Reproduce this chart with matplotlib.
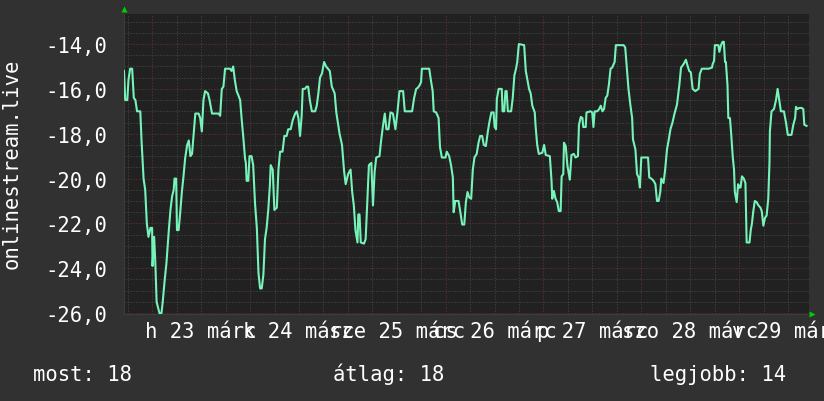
import matplotlib
matplotlib.use('Agg')
import matplotlib.pyplot as plt
import matplotlib.transforms as mtransforms
import numpy as np

# hours since the first sample (22 March, ~17:04) and the plotted rank value
hours = [
    0.0, 0.3, 0.8, 1.1, 1.5, 2.0, 2.4, 2.8, 3.2, 4.0,
    4.3, 4.8, 5.2, 5.6, 6.0, 6.5, 6.9, 7.0, 7.4, 7.7,
    8.0, 8.7, 9.2, 9.5, 10.0, 10.4, 11.0, 11.4, 11.8, 12.2,
    12.4, 12.8, 13.0, 13.4, 13.8, 14.2, 14.6, 15.0, 15.5, 15.9,
    16.3, 16.7, 17.1, 17.5, 18.3, 18.7, 19.1, 19.5, 19.9, 20.6,
    21.0, 21.6, 23.2, 23.6, 24.0,
    24.4, 24.8, 26.0, 26.4, 26.8, 27.2, 27.65, 28.1, 28.5, 28.9,
    29.3, 29.7, 29.9, 30.1, 30.5, 30.8, 31.3, 31.7, 32.15, 32.6,
    33.0, 33.4, 33.8, 34.2, 34.6, 35.0, 35.4, 35.8, 36.0, 36.5,
    36.9, 37.5, 37.9, 38.3, 38.9, 39.35, 39.9, 40.3, 40.9, 41.4,
    42.0, 42.4, 42.8, 43.2, 43.6, 43.85, 44.4, 44.8, 45.2, 45.6,
    46.1, 46.9, 47.3, 47.7, 48.1,
    48.6, 49.1, 49.6, 50.5, 51.0, 51.7, 52.1, 52.9, 53.5, 54.0,
    54.4, 55.0, 55.6, 56.0, 56.4, 56.8, 57.3, 57.5, 57.8, 58.1,
    58.9, 59.3, 59.7, 60.1, 60.7, 61.1, 61.5, 61.9, 62.7, 63.1,
    63.55, 64.0, 64.4, 64.9, 65.4, 66.0, 66.6, 67.1, 67.6, 68.5,
    68.9, 70.7, 71.2, 71.7, 72.1,
    72.5, 72.9, 73.1, 74.5, 74.9, 75.3, 75.75, 76.0, 76.6, 77.2,
    77.55, 78.0, 78.9, 79.2, 79.8, 80.25, 80.7, 80.9, 81.3, 82.1,
    82.5, 83.0, 83.5, 83.9, 84.3, 84.75, 85.2, 85.6, 86.0, 86.55,
    87.0, 87.4, 87.9, 88.3, 88.8, 89.25, 89.65, 90.15, 90.7, 90.95,
    91.3, 91.5, 91.95, 92.7, 92.9, 93.3, 93.6, 93.9, 94.2, 95.0,
    95.4, 95.8, 96.2, 96.5, 96.9,
    98.2, 98.6, 99.0, 99.4, 99.8, 100.2, 100.8, 101.0, 101.4, 101.8,
    102.65, 103.1, 103.5, 104.5, 104.9, 105.1, 105.5, 105.9, 106.3, 106.7,
    107.15, 107.4, 107.8, 107.97, 108.4, 108.8, 109.4, 109.8, 110.4, 110.8,
    111.4, 111.65, 112.1, 112.5, 112.7, 113.3, 113.5, 114.5, 114.9, 115.2,
    115.5, 116.15, 116.6, 117.0, 117.4, 117.8, 118.2, 118.6, 119.0, 119.4,
    119.8,
    120.4, 120.7, 122.6, 123.0, 123.4, 123.8, 124.25, 124.7, 124.9, 125.5,
    125.9, 126.3, 126.6, 126.95, 128.6, 128.9, 129.4, 129.97, 130.4, 130.8,
    131.2, 131.6, 131.85, 132.4, 132.8, 133.25, 133.65, 134.1, 134.6, 135.1,
    135.7, 136.3, 136.7, 137.3, 137.9, 138.3, 138.7, 139.1, 139.55, 140.2,
    141.0, 141.3, 141.8, 143.5, 144.3,
    144.45, 144.8, 145.0, 145.85, 146.1, 146.5, 146.9, 147.2, 147.5, 147.7,
    148.1, 148.3, 148.7, 149.0, 149.4, 149.7, 149.9, 150.35, 150.7, 151.0,
    151.3, 151.65, 152.1, 152.5, 152.8, 153.5, 153.8, 154.1, 154.4, 154.8,
    155.25, 155.7, 156.2, 156.5, 156.9, 157.3, 157.7, 158.1, 158.4, 158.5,
    158.9, 159.5, 160.0, 160.4, 160.8, 161.2, 161.95, 162.45, 162.9, 163.8,
    164.25, 164.7, 164.9, 165.3, 165.7, 166.3, 166.7, 166.95, 167.5,
]
rank = [
    -15.2, -16.5, -16.5, -15.6, -15.1, -15.1, -16.4, -16.5, -17.0, -17.0,
    -18.3, -20.0, -20.5, -22.0, -22.6, -22.2, -22.2, -23.9, -22.6, -23.8,
    -25.5, -26.0, -26.0, -25.5, -24.5, -23.8, -22.3, -21.4, -20.8, -20.5,
    -20.0, -20.0, -22.3, -22.3, -21.5, -20.6, -19.9, -19.1, -18.5, -18.3,
    -19.0, -18.9, -18.0, -17.1, -17.1, -17.3, -17.9, -16.5, -16.1, -16.2,
    -16.5, -17.1, -17.1, -17.2, -16.0,
    -15.9, -15.1, -15.1, -15.2, -15.0, -15.6, -16.1, -16.3, -16.5, -17.4,
    -18.2, -19.1, -19.3, -20.1, -20.1, -19.0, -19.0, -19.4, -21.1, -22.2,
    -24.2, -24.9, -24.9, -24.3, -22.7, -22.2, -21.4, -20.3, -19.4, -19.6,
    -21.4, -21.3, -19.6, -18.8, -18.8, -18.1, -18.1, -17.8, -17.8, -17.4,
    -17.1, -17.0, -17.3, -18.1, -17.2, -16.0, -16.0, -15.9, -15.9, -16.5,
    -17.0, -17.0, -16.75, -16.2, -15.5,
    -15.3, -14.8, -15.0, -15.2, -15.9, -16.2, -17.05, -18.0, -18.5, -19.65,
    -20.25, -19.8, -19.6, -20.6, -21.2, -22.3, -22.85, -21.6, -21.6, -22.85,
    -22.9, -22.7, -21.05, -19.4, -19.3, -21.2, -19.7, -19.06, -19.0, -18.3,
    -17.65, -17.1, -17.8, -17.8, -17.05, -17.1, -17.8, -17.05, -16.1, -16.1,
    -17.0, -17.0, -16.4, -16.0, -15.95,
    -15.85, -15.7, -15.1, -15.1, -15.1, -15.6, -16.1, -17.0, -17.05, -17.3,
    -18.6, -19.06, -19.06, -18.8, -19.0, -19.4, -19.95, -21.5, -21.0, -21.0,
    -21.45, -22.05, -22.05, -21.05, -20.6, -20.85, -20.9, -19.6, -19.06, -18.9,
    -18.4, -18.1, -18.1, -18.5, -18.55, -17.95, -17.5, -17.05, -17.05, -17.7,
    -17.8, -16.45, -16.0, -16.0, -17.0, -17.0, -16.1, -16.1, -17.0, -17.0,
    -16.4, -15.4, -15.1, -14.8, -14.0,
    -14.05, -15.2, -15.6, -16.0, -16.2, -16.75, -17.05, -17.65, -18.5, -18.9,
    -18.85, -18.5, -18.95, -19.0, -20.05, -20.9, -20.55, -20.9, -21.05, -21.45,
    -21.45, -19.9, -19.8, -18.4, -18.55, -19.4, -20.05, -18.95, -18.9, -19.06,
    -19.0, -17.6, -17.25, -17.3, -17.7, -17.7, -17.05, -17.0, -17.05, -17.7,
    -17.0, -17.0, -16.9, -16.75, -17.0, -16.9, -16.4, -16.3, -15.8, -15.1,
    -15.05,
    -14.8, -14.05, -14.05, -14.15, -15.05, -16.0, -16.7, -17.3, -18.25, -18.7,
    -19.8, -19.95, -20.4, -19.06, -19.06, -19.95, -20.0, -20.1, -20.25, -21.0,
    -21.0, -20.6, -20.0, -20.2, -19.6, -18.7, -18.3, -17.8, -17.5, -17.1,
    -16.7, -15.8, -15.05, -14.9, -14.7, -14.97, -15.2, -15.26, -16.0, -16.1,
    -16.0, -15.34, -15.1, -15.1, -15.05,
    -14.9, -14.75, -14.05, -14.05, -14.35, -14.05, -13.9, -13.9, -14.8, -14.8,
    -15.85, -17.3, -17.3, -18.0, -19.06, -19.6, -20.6, -21.05, -20.25, -20.4,
    -20.4, -19.9, -20.0, -20.2, -22.85, -22.85, -22.3, -22.0, -21.5, -21.0,
    -21.05, -21.2, -21.3, -21.45, -22.1, -21.75, -21.65, -20.9, -19.3, -17.9,
    -17.0, -16.9, -16.5, -16.0, -16.5, -17.0, -17.0, -17.5, -18.05, -18.05,
    -17.6, -17.3, -16.8, -16.9, -16.85, -16.85, -16.9, -17.6, -17.65,
]

day_labels = ['h 23 márc', 'k 24 márc', 'sze 25 márc', 'cs 26 márc',
              'p 27 márc', 'szo 28 márc', 'v 29 márc']
first_midnight = 6.94   # hours from first sample to 23 March 00:00
span = 168.1
y_ticks = [-26, -24, -22, -20, -18, -16, -14]
summary = ['most: 18', 'átlag: 18', 'legjobb: 14']
site = 'onlinestream.live'

bg = '#313131'
plot_bg = '#212121'
line_c = '#76f3b8'
fs = 14.8

plt.rcParams['font.family'] = ['DejaVu Sans Mono']

fig = plt.figure(figsize=(8.24, 4.02), dpi=100, facecolor=bg)
ax = fig.add_axes([124 / 824, 1 - 315 / 402, 685 / 824, 300 / 402])
ax.set_facecolor(plot_bg)
ax.set_xlim(0, span)
ax.set_ylim(-26.04, -12.66)

# dotted grid, red on the major lines
dots = (0, (1, 2))
for x in np.arange(first_midnight - 6, span, 6):
    major = abs((x - first_midnight) % 24) < 0.01
    ax.axvline(x, color='#6e3434' if major else '#4c4c4c', lw=0.72, ls=dots, zorder=1)
for y in np.arange(-26, -12.6, 0.5):
    major = abs(y % 2) < 0.01
    ax.axhline(y, color='#6e3434' if major else '#4c4c4c', lw=0.72, ls=dots, zorder=1)

ax.plot(hours, rank, color=line_c, lw=1.5, zorder=3)

# day labels centred at noon, all on one baseline
noons = [first_midnight + 12 + 24 * i for i in range(len(day_labels))]
ax.set_xticks([])
trans = mtransforms.blended_transform_factory(ax.transData, ax.transAxes)
for xn, lab in zip(noons, day_labels):
    ax.text(xn, -23 / 300, lab, transform=trans, ha='center', va='baseline',
            color='white', fontsize=fs, clip_on=False)

ax.set_yticks(y_ticks, labels=[f'{v:.1f}'.replace('.', ',') for v in y_ticks])
ax.tick_params(axis='y', colors='white', labelsize=fs, length=0, pad=12)
for s in ['top', 'right']:
    ax.spines[s].set_visible(False)
for s in ['left', 'bottom']:
    ax.spines[s].set_color('#3c3c3c')

# green arrow heads at the axis ends
ax.plot([0], [1.017], marker='^', ms=5, color='#00d000', mec='none',
        transform=ax.transAxes, clip_on=False)
ax.plot([1.005], [0.0], marker='>', ms=5, color='#00d000', mec='none',
        transform=ax.transAxes, clip_on=False)

fig.text(12 / 824, 1 - 164 / 402, site, rotation=90, ha='center', va='center',
         color='white', fontsize=fs)
for x, s in zip([33, 333, 650], summary):
    fig.text(x / 824, 1 - 381 / 402, s, ha='left', va='baseline', color='white', fontsize=fs)

fig.savefig('out.png', dpi=100, facecolor=bg)
